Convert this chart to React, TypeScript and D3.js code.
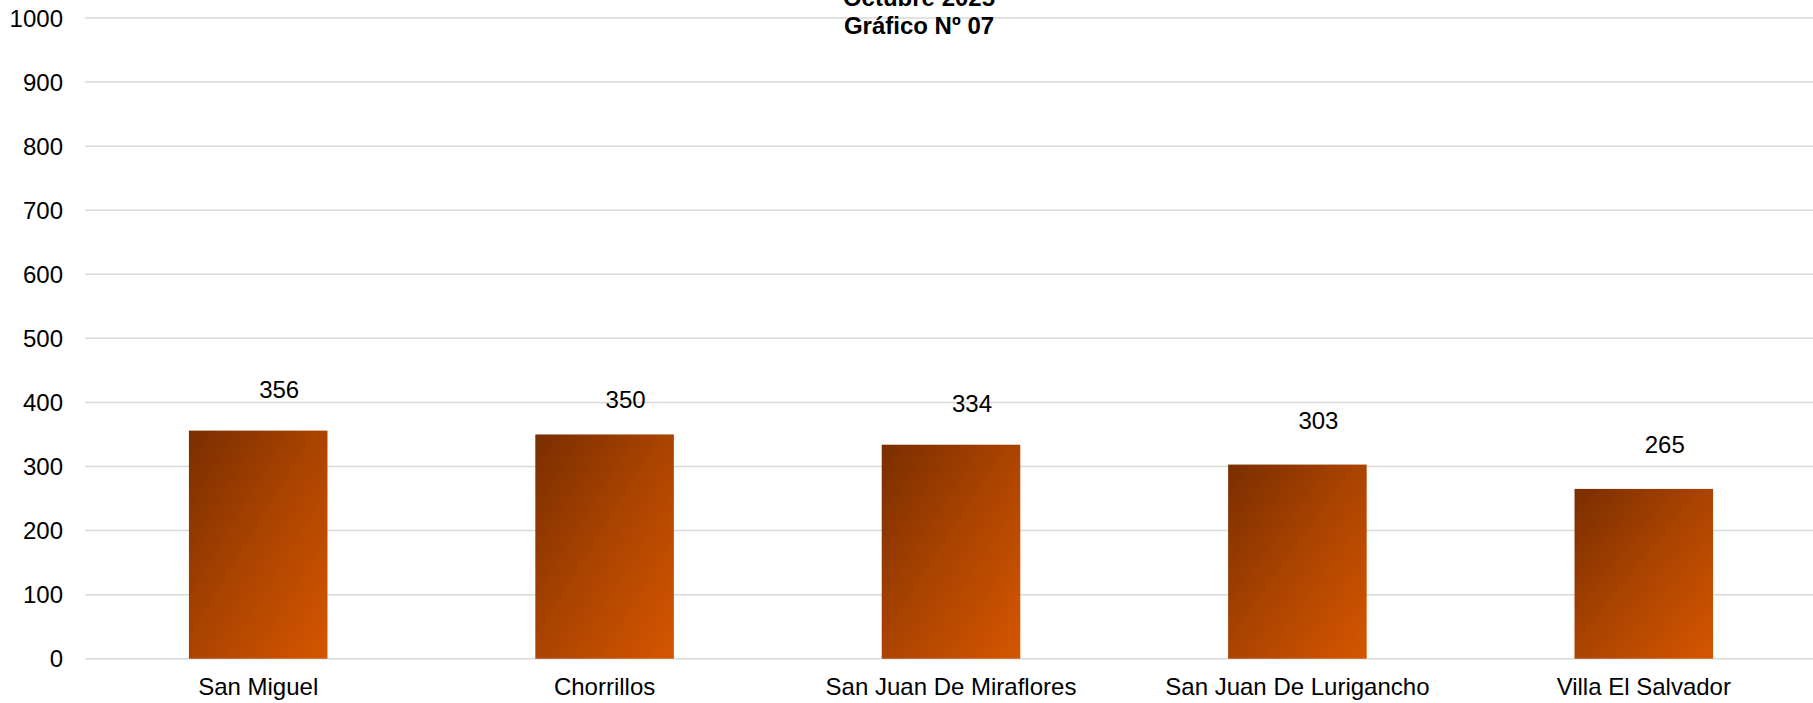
import React from "react";
import * as d3 from "d3";

const categories: string[] = [
  "San Miguel",
  "Chorrillos",
  "San Juan De Miraflores",
  "San Juan De Lurigancho",
  "Villa El Salvador",
];
const values: number[] = [356, 350, 334, 303, 265];
const yTicks: number[] = [0, 100, 200, 300, 400, 500, 600, 700, 800, 900, 1000];
const titleLines: string[] = ["Octubre 2025", "Gráfico Nº 07"];

// layout: gap (px) between bar top and its value label baseline
const labelGaps: number[] = [33, 26, 33, 36, 36];

const W = 1813;
const H = 703;
const FONT = "'Liberation Sans', Arial, sans-serif";

export default function App() {
  const x = d3
    .scaleBand<string>()
    .domain(categories)
    .range([85, 1817])
    .paddingInner(0.6)
    .paddingOuter(0.3);
  const y = d3.scaleLinear().domain([0, 1000]).range([658.7, 18]);

  return (
    <svg
      width={W}
      height={H}
      style={{ position: "absolute", left: 0, top: 0, display: "block", background: "#fff" }}
    >
      <defs>
        <linearGradient id="barGrad" x1="0" y1="0" x2="1" y2="1">
          <stop offset="0%" stopColor="#7a2e00" />
          <stop offset="50%" stopColor="#ab4400" />
          <stop offset="100%" stopColor="#d65600" />
        </linearGradient>
      </defs>
      {yTicks.map((t) => (
        <g key={t}>
          <line x1={85} x2={W} y1={y(t)} y2={y(t)} stroke="#d9d9d9" strokeWidth={1.5} />
          <text
            x={63}
            y={y(t) + 8.6}
            textAnchor="end"
            fontFamily={FONT}
            fontSize={24}
            fill="#000"
          >
            {t}
          </text>
        </g>
      ))}
      {categories.map((c, i) => {
        const bx = x(c)!;
        const bw = x.bandwidth();
        const top = y(values[i]);
        return (
          <g key={c}>
            <rect x={bx} y={top} width={bw} height={y(0) - top} fill="url(#barGrad)" />
            <text
              x={bx + bw / 2 + 21}
              y={top - labelGaps[i]}
              textAnchor="middle"
              fontFamily={FONT}
              fontSize={24}
              fill="#000"
            >
              {values[i]}
            </text>
            <text
              x={bx + bw / 2}
              y={695}
              textAnchor="middle"
              fontFamily={FONT}
              fontSize={24}
              fill="#000"
            >
              {c}
            </text>
          </g>
        );
      })}
      {titleLines.map((t, i) => (
        <text
          key={t}
          x={919}
          y={6 + i * 27.5}
          textAnchor="middle"
          fontFamily={FONT}
          fontSize={24}
          fontWeight="bold"
          fill="#000"
        >
          {t}
        </text>
      ))}
    </svg>
  );
}
